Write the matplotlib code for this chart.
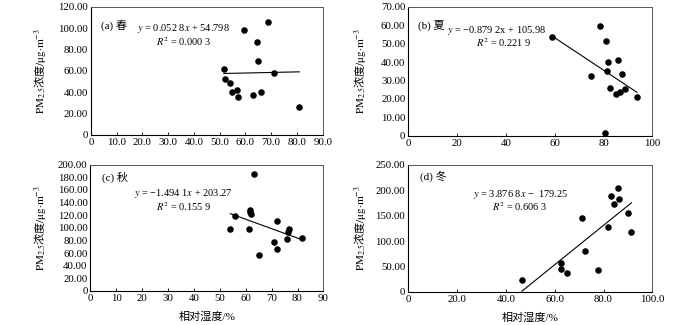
import matplotlib

matplotlib.use("Agg")
import matplotlib.pyplot as plt
import numpy as np

plt.rcParams["font.family"] = ["Liberation Serif", "Noto Sans CJK SC"]
plt.rcParams["mathtext.fontset"] = "stix"

# Relative humidity (%) and PM2.5 (ug/m3) by season
rh_spring = [51.6, 52.2, 53.9, 54.8, 56.6, 57.2, 59.3, 62.8, 64.5, 64.8, 66.0, 68.9, 71.2, 80.9]
pm_spring = [62.1, 52.7, 48.3, 39.8, 42.3, 35.1, 98.1, 37.6, 87.1, 69.4, 39.8, 105.9, 58.3, 25.7]

rh_summer = [58.8, 74.7, 78.5, 80.5, 81.2, 81.5, 81.9, 82.8, 84.9, 86.0, 86.9, 87.7, 88.8, 93.7]
pm_summer = [53.4, 32.4, 59.4, 1.3, 51.6, 35.1, 39.8, 26.2, 22.6, 41.3, 23.7, 33.5, 25.6, 21.1]

rh_autumn = [54.1, 55.9, 61.4, 61.5, 61.7, 61.9, 63.2, 65.2, 70.8, 72.1, 72.2, 75.9, 76.2, 76.6, 81.7]
pm_autumn = [98.4, 118.6, 98.4, 128.6, 124.9, 121.7, 185.2, 57.1, 76.8, 110.6, 66.7, 82.5, 93.7, 97.4, 84.1]

rh_winter = [46.6, 62.6, 62.4, 65.1, 71.0, 72.3, 77.8, 82.0, 83.2, 84.3, 85.8, 86.2, 90.1, 91.4]
pm_winter = [22.4, 57.1, 45.3, 36.2, 145.7, 80.1, 42.7, 127.4, 189.0, 172.0, 204.1, 181.9, 155.5, 116.9]

# Fitted lines (slope, intercept) as printed
fit_spring = (0.0528, 54.798)
fit_summer = (-0.8792, 105.98)
fit_autumn = (-1.4941, 203.27)
fit_winter = (3.8768, -179.25)

titles = ["(a) 春", "(b) 夏", "(c) 秋", "(d) 冬"]
equations = [
    "$y$ = 0.052 8$x$ + 54.798",
    "$y$ = \u22120.879 2x + 105.98",
    "$y$ = \u22121.494 1$x$ + 203.27",
    "$y$ = 3.876 8$x$ \u2212  179.25",
]
r2_labels = ["$R^2$ = 0.000 3", "$R^2$ = 0.221 9", "$R^2$ = 0.155 9", "$R^2$ = 0.606 3"]

xticks = [
    np.arange(0, 91, 10), np.arange(0, 101, 20),
    np.arange(0, 91, 10), np.arange(0, 101, 20),
]
xtick_labels = [
    ["0"] + ["%.1f" % v for v in range(10, 91, 10)],
    [str(v) for v in range(0, 101, 20)],
    [str(v) for v in range(0, 91, 10)],
    ["0"] + ["%.1f" % v for v in range(20, 101, 20)],
]
yticks = [
    np.arange(0, 121, 20), np.arange(0, 71, 10),
    np.arange(0, 201, 20), np.arange(0, 251, 50),
]

panels = [
    (rh_spring, pm_spring, fit_spring),
    (rh_summer, pm_summer, fit_summer),
    (rh_autumn, pm_autumn, fit_autumn),
    (rh_winter, pm_winter, fit_winter),
]

# axes boxes in figure fraction
boxes = [
    [0.130, 0.585, 0.331, 0.394],
    [0.583, 0.582, 0.349, 0.397],
    [0.129, 0.105, 0.333, 0.388],
    [0.583, 0.102, 0.349, 0.391],
]
title_pos = [(0.045, 0.86), (0.04, 0.86), (0.05, 0.90), (0.05, 0.91)]
eq_pos = [(0.40, 0.83), (0.363, 0.82), (0.40, 0.77), (0.46, 0.77)]
r2_pos = [(0.40, 0.73), (0.39, 0.726), (0.40, 0.67), (0.455, 0.67)]
ylabel_x = [-0.185, -0.164, -0.18, -0.164]

fig = plt.figure(figsize=(7, 3.25), dpi=100)

for i, (rh, pm, fit) in enumerate(panels):
    ax = fig.add_axes(boxes[i])
    ax.plot(rh, pm, "o", color="black", ms=3.7, mec="black")

    xs = np.array([min(rh), max(rh)])
    ax.plot(xs, fit[0] * xs + fit[1], color="black", lw=0.8)

    ax.set_xlim(xticks[i][0], xticks[i][-1])
    ax.set_ylim(yticks[i][0], yticks[i][-1])
    ax.set_xticks(xticks[i])
    ax.set_xticklabels(xtick_labels[i])
    ax.set_yticks(yticks[i])
    ax.set_yticklabels(["0"] + ["%.2f" % v for v in yticks[i][1:]])
    ax.tick_params(direction="in", length=2, width=0.6, labelsize=7.8, pad=2)
    ax.tick_params(axis="y", length=0)

    for side in ["left", "bottom"]:
        ax.spines[side].set_linewidth(0.8)
    for side in ["top", "right"]:
        ax.spines[side].set_linewidth(0.7)
        ax.spines[side].set_color("#555555")

    ax.text(*title_pos[i], titles[i], transform=ax.transAxes, fontsize=8,
            ha="left", va="center")
    ax.text(*eq_pos[i], equations[i], transform=ax.transAxes, fontsize=7.5,
            ha="center", va="center")
    ax.text(*r2_pos[i], r2_labels[i], transform=ax.transAxes, fontsize=7.5,
            ha="center", va="center")

    ax.set_ylabel(r"$\mathrm{PM}_{2.5}$浓度$\mathrm{/μg·m^{-3}}$", fontsize=8,
                  family=["Noto Sans CJK SC"])
    ax.yaxis.set_label_coords(ylabel_x[i], 0.5)
    if i >= 2:
        ax.set_xlabel("相对湿度/%", fontsize=8)
        ax.xaxis.set_label_coords(0.5, -0.16)

fig.savefig("out.png", dpi=100)
